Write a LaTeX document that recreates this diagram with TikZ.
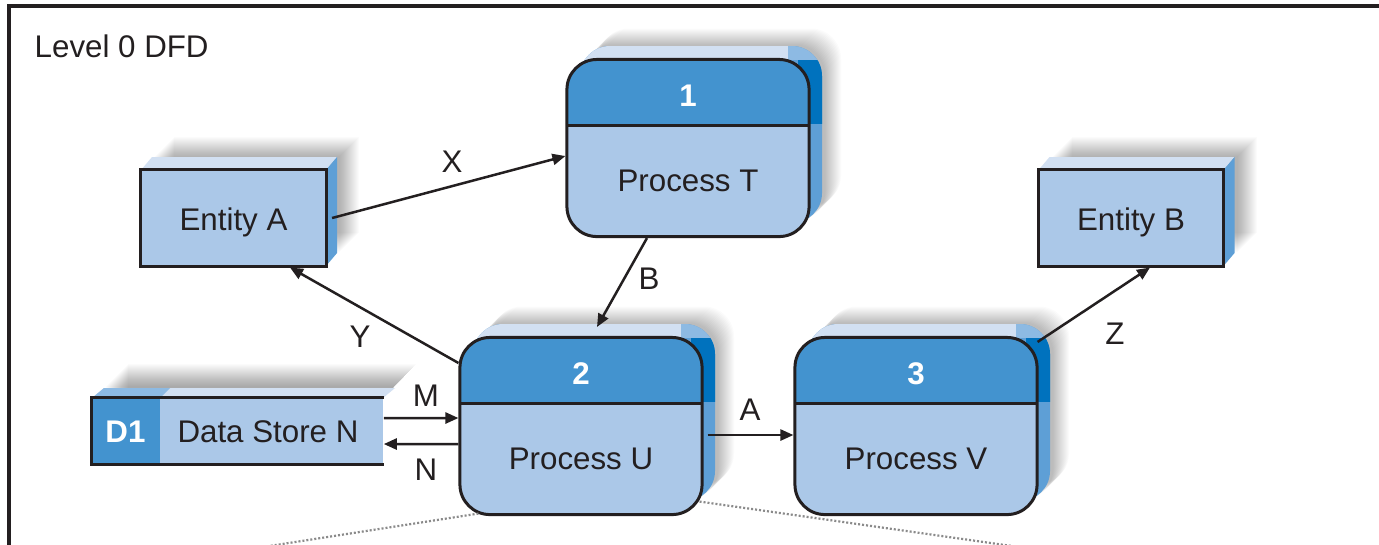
\documentclass[tikz,border=0pt]{standalone}
\usepackage{fontspec}
\setmainfont{Liberation Sans}
\usetikzlibrary{arrows.meta}
\definecolor{headblue}{HTML}{4393CF}
\definecolor{bodyblue}{HTML}{ABC8E8}
\definecolor{topface}{HTML}{D2E0F2}
\definecolor{sideblue}{HTML}{5E9FD6}
\definecolor{sidedark}{HTML}{0072BE}
\definecolor{cornerlight}{HTML}{8DBAE3}
\definecolor{linec}{HTML}{231F20}
\definecolor{dotc}{HTML}{8A8A8A}
\tikzset{
  txt/.style={font=\fontsize{8.9}{10}\selectfont, text=linec, inner sep=0pt, anchor=base},
  numtxt/.style={font=\fontsize{8.9}{10}\selectfont\bfseries, text=white, inner sep=0pt, anchor=base},
  flow/.style={draw=linec, line width=0.025cm, -{Triangle[length=0.13cm,width=0.11cm]}},
  procnode/.style={rectangle, draw=linec, line width=0.03cm, rounded corners=0.3cm, minimum width=2.42cm, minimum height=1.77cm, inner sep=0pt},
  entnode/.style={rectangle, fill=bodyblue, draw=linec, line width=0.03cm, minimum width=1.85cm, minimum height=0.96cm, inner sep=0pt},
  shade/.style={fill=black, opacity=0.016},
  dotline/.style={draw=dotc, line width=0.022cm, dash pattern=on 0.02cm off 0.02cm},
  frameline/.style={draw=linec, line width=0.035cm}
}
\newcommand\procbox[5]{%
\begin{scope}[shift={(#2,#3)}]
  \foreach \d in {0,1,...,16}
    \fill[shade, rounded corners=0.3cm] (-121+16+\d,-88.5-15-\d) rectangle (121+16+\d,88.5-15-\d);
  \begin{scope}
    \clip[rounded corners=0.3cm] (-108,-102) rectangle (134,75);
    \fill[sideblue] (-130,-120) rectangle (150,90);
    \fill[topface] (-130,-120) rectangle (100,-88.5);
    \fill[cornerlight] (100,-120) rectangle (150,-88.5);
    \fill[sidedark] (110,-88.5) rectangle (150,-24);
  \end{scope}
  \fill[bodyblue, rounded corners=0.3cm] (-121,-88.5) rectangle (121,88.5);
  \begin{scope}
    \clip[rounded corners=0.3cm] (-121,-88.5) rectangle (121,88.5);
    \fill[headblue] (-121,-88.5) rectangle (121,-23);
  \end{scope}
  \node[procnode] (#1) at (0,0) {};
  \draw[linec, line width=0.03cm] (-121,-23) -- (121,-23);
  \node[numtxt] at (0,-42) {#4};
  \node[txt] at (0,43) {#5};
\end{scope}}
\newcommand\entbox[4]{%
\begin{scope}[shift={(#2,#3)}]
  \foreach \d in {0,1,...,19}
    \fill[shade] (-92.5+14+\d,-48-14-\d) rectangle (92.5+14+\d,48-14-\d);
  \fill[topface] (-92.5,-48) -- (-81.5,-61) -- (103.5,-61) -- (92.5,-48) -- cycle;
  \fill[sideblue] (92.5,-48) -- (103.5,-61) -- (103.5,35) -- (92.5,48) -- cycle;
  \node[entnode] (#1) at (0,0) {};
  \node[txt] at (0,12) {#4};
\end{scope}}
\begin{document}
\begin{tikzpicture}[x=0.01cm,y=-0.01cm]
\useasboundingbox (0,0) rectangle (1379,544);
\clip (0,0) rectangle (1379,544);
\fill[white] (0,0) rectangle (1379,544);
% frame
\draw[frameline] (9,560) -- (9,6) -- (1400,6);
\node[txt, anchor=base west] (title) at (34,57) {Level 0 DFD};
% entities
\entbox{eA}{233.5}{218}{Entity A}
\entbox{eB}{1131}{218}{Entity B}
% data store
\begin{scope}
  \clip (80,398) -- (383,398) -- (422,358) -- (80,358) -- cycle;
  \foreach \d in {0,1,...,22}
    \fill[shade] (92+14+\d,398-12-\d) rectangle (383+14+\d,464-12-\d);
\end{scope}
\fill[topface] (92,398) -- (104,388) -- (395,388) -- (383,398) -- cycle;
\fill[cornerlight] (92,398) -- (104,388) -- (170,388) -- (160,398) -- cycle;
\fill[bodyblue] (92,398) rectangle (383,464);
\fill[headblue] (92,398) rectangle (160,464);
\node[minimum width=2.91cm, minimum height=0.66cm, inner sep=0pt] (ds) at (237.5,431) {};
\draw[linec, line width=0.03cm] (ds.north east) -- (ds.north west) -- (ds.south west) -- (ds.south east);
\node[numtxt] (d1) at (125.5,442) {D1};
\node[txt] (dsl) at (268,442) {Data Store N};
% processes
\procbox{p1}{688}{148}{1}{Process T}
\procbox{pU}{581}{426}{2}{Process U}
\procbox{pV}{916}{426}{3}{Process V}
% dotted lines
\coordinate (dl) at (250,549);
\coordinate (dr) at (1040,550);
\draw[dotline] ([xshift=0.2cm,yshift=0.025cm]pU.south west) -- (dl);
\draw[dotline] ([xshift=-0.04cm,yshift=0.145cm]pU.south east) -- (dr);
% flows
\draw[flow] ([xshift=0.045cm]eA.east) -- ([yshift=-0.08cm]p1.west);
\draw[flow] ([yshift=0.63cm]pU.west) -- ([xshift=0.565cm]eA.south);
\draw[flow] ([xshift=-0.41cm]p1.south) -- ([xshift=0.16cm,yshift=0.09cm]pU.north);
\draw[flow] ([yshift=0.13cm]ds.east) -- ([yshift=0.08cm]pU.west);
\draw[flow] ([yshift=-0.18cm]pU.west) -- ([yshift=-0.13cm]ds.east);
\draw[flow] ([xshift=0.04cm,yshift=-0.09cm]pU.east) -- ([yshift=-0.09cm]pV.west);
\draw[flow] ([xshift=-0.01cm,yshift=-0.06cm]pV.north east) -- ([xshift=0.19cm]eB.south);
% labels
\node[txt] (lx) at (452,172) {X};
\node[txt] (ly) at (360,347) {Y};
\node[txt] (lb) at (649,289) {B};
\node[txt] (lm) at (426,406) {M};
\node[txt] (ln) at (426,480) {N};
\node[txt] (la) at (750,420) {A};
\node[txt] (lz) at (1115,344) {Z};
\end{tikzpicture}
\end{document}
